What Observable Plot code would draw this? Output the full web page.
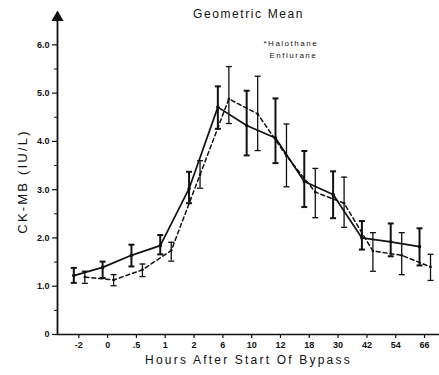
<!DOCTYPE html>
<html>
<head>
<meta charset="utf-8">
<script src="https://cdn.jsdelivr.net/npm/d3@7"></script>
<script src="https://cdn.jsdelivr.net/npm/@observablehq/plot@0.6"></script>
<style>
  html, body { margin: 0; padding: 0; background: #fff; }
</style>
</head>
<body>
<div id="chart"></div>
<script>
// Categories (x tick labels: hours after start of bypass)
const hours = ["-2", "0", ".5", "1", "2", "6", "10", "12", "18", "30", "42", "54", "66"];

// Halothane (solid line): geometric mean and error bar ends
const halothane   = [1.22, 1.39, 1.64, 1.84, 3.02, 4.71, 4.33, 4.07, 3.17, 2.90, 2.00, 1.92, 1.82];
const halothaneLo = [1.07, 1.17, 1.41, 1.66, 2.72, 4.26, 3.71, 3.55, 2.64, 2.41, 1.76, 1.62, 1.43];
const halothaneHi = [1.38, 1.51, 1.86, 2.06, 3.37, 5.14, 5.05, 4.89, 3.80, 3.38, 2.35, 2.30, 2.20];

// Enflurane (dashed line)
const enflurane   = [1.19, 1.13, 1.34, 1.74, 3.31, 4.88, 4.57, 3.70, 2.95, 2.72, 1.73, 1.64, 1.40];
const enfluraneLo = [1.06, 1.01, 1.20, 1.52, 3.03, 4.37, 3.81, 3.06, 2.42, 2.22, 1.31, 1.24, 1.12];
const enfluraneHi = [1.31, 1.24, 1.46, 1.91, 3.60, 5.55, 5.35, 4.36, 3.44, 3.26, 2.11, 2.11, 1.66];

// Y tick values
const yMajor = [0, 1, 2, 3, 4, 5, 6];
const yMinor = [0.5, 1.5, 2.5, 3.5, 4.5, 5.5, 6.5];

const rows = (v, lo, hi) => hours.map((h, i) => ({i, v: v[i], lo: lo[i], hi: hi[i]}));
const hal = rows(halothane, halothaneLo, halothaneHi);
const enf = rows(enflurane, enfluraneLo, enfluraneHi);

const xDomain = [-0.74, 12.52];
const yDomain = [0, 6.67];

const cap = {
  draw(ctx, size) {
    const r = Math.sqrt(size / Math.PI);
    ctx.moveTo(-r, 0);
    ctx.lineTo(r, 0);
  }
};

const font = "Liberation Sans, Arial, sans-serif";
const ink = "#111";

const chart = Plot.plot({
  width: 439,
  height: 375,
  marginLeft: 57,
  marginRight: 0,
  marginTop: 12,
  marginBottom: 41,
  style: {fontFamily: font, background: "#fff", color: ink},
  x: {domain: xDomain, axis: null},
  y: {domain: yDomain, axis: null},
  marks: [
    // axes
    Plot.axisY({ticks: yMajor, tickSize: 5, tickPadding: 3, tickFormat: d => d === 0 ? "0" : d.toFixed(1), fontSize: 9, fontWeight: "bold", label: null, stroke: ink, strokeWidth: 1.2}),
    Plot.axisY({ticks: yMinor, tickSize: 3, tickFormat: () => "", label: null, stroke: ink}),
    Plot.axisX({ticks: d3.range(hours.length), tickSize: 4, tickPadding: 3, tickFormat: i => hours[i], fontSize: 9, fontWeight: "bold", label: null, stroke: ink, strokeWidth: 1.2}),
    Plot.ruleY([yDomain[0]], {stroke: ink, strokeWidth: 1.6}),
    Plot.ruleX([xDomain[0]], {y1: yDomain[0], y2: yDomain[1], stroke: ink, strokeWidth: 1.8}),
    Plot.dot([xDomain[0]], {x: d => d, y: () => yDomain[1], symbol: "triangle", r: 4.5, fill: ink, dy: 5}),

    // Enflurane (dashed)
    Plot.ruleX(enf, {x: "i", y1: "lo", y2: "hi", dx: 6, stroke: ink, strokeWidth: 1.3}),
    Plot.dot(enf, {x: "i", y: "lo", dx: 6, symbol: cap, r: 3, stroke: ink, strokeWidth: 1.3}),
    Plot.dot(enf, {x: "i", y: "hi", dx: 6, symbol: cap, r: 3, stroke: ink, strokeWidth: 1.3}),
    Plot.line(enf, {x: "i", y: "v", dx: 6, stroke: ink, strokeWidth: 1.5, strokeDasharray: "4,3"}),
    Plot.dot(enf, {x: "i", y: "v", dx: 6, r: 1.3, fill: ink}),

    // Halothane (solid)
    Plot.ruleX(hal, {x: "i", y1: "lo", y2: "hi", dx: -5, stroke: ink, strokeWidth: 2}),
    Plot.dot(hal, {x: "i", y: "lo", dx: -5, symbol: cap, r: 3, stroke: ink, strokeWidth: 2}),
    Plot.dot(hal, {x: "i", y: "hi", dx: -5, symbol: cap, r: 3, stroke: ink, strokeWidth: 2}),
    Plot.line(hal, {x: "i", y: "v", dx: -5, stroke: ink, strokeWidth: 1.7}),
    Plot.dot(hal, {x: "i", y: "v", dx: -5, r: 1.8, fill: ink}),

    // texts
    Plot.text(["Geometric Mean"], {text: d => d, frameAnchor: "top", textAnchor: "middle", lineAnchor: "middle", dy: 2, fontSize: 12, fill: ink}),
    Plot.text(["*Halothane"], {text: d => d, frameAnchor: "top-left", textAnchor: "start", lineAnchor: "middle", dx: 206, dy: 31, fontSize: 8, fill: ink}),
    Plot.text(["Enflurane"], {text: d => d, frameAnchor: "top-left", textAnchor: "start", lineAnchor: "middle", dx: 212, dy: 43, fontSize: 8, fill: ink}),
    Plot.text(["Hours After Start Of Bypass"], {text: d => d, frameAnchor: "bottom", textAnchor: "middle", lineAnchor: "middle", dy: 26, fontSize: 12, fill: ink}),
    Plot.text(["CK-MB (IU/L)"], {text: d => d, frameAnchor: "left", textAnchor: "middle", lineAnchor: "middle", dx: -35, dy: 8, rotate: -90, fontSize: 13, fill: ink})
  ]
});

const spacing = {"Geometric Mean": 1.6, "Hours After Start Of Bypass": 2.2, "CK-MB (IU/L)": 2.2, "*Halothane": 1.5, "Enflurane": 1.5};
d3.select(chart).selectAll("text").each(function () {
  const s = spacing[this.textContent];
  if (s != null) d3.select(this).attr("letter-spacing", s);
});

document.getElementById("chart").appendChild(chart);
</script>
</body>
</html>
